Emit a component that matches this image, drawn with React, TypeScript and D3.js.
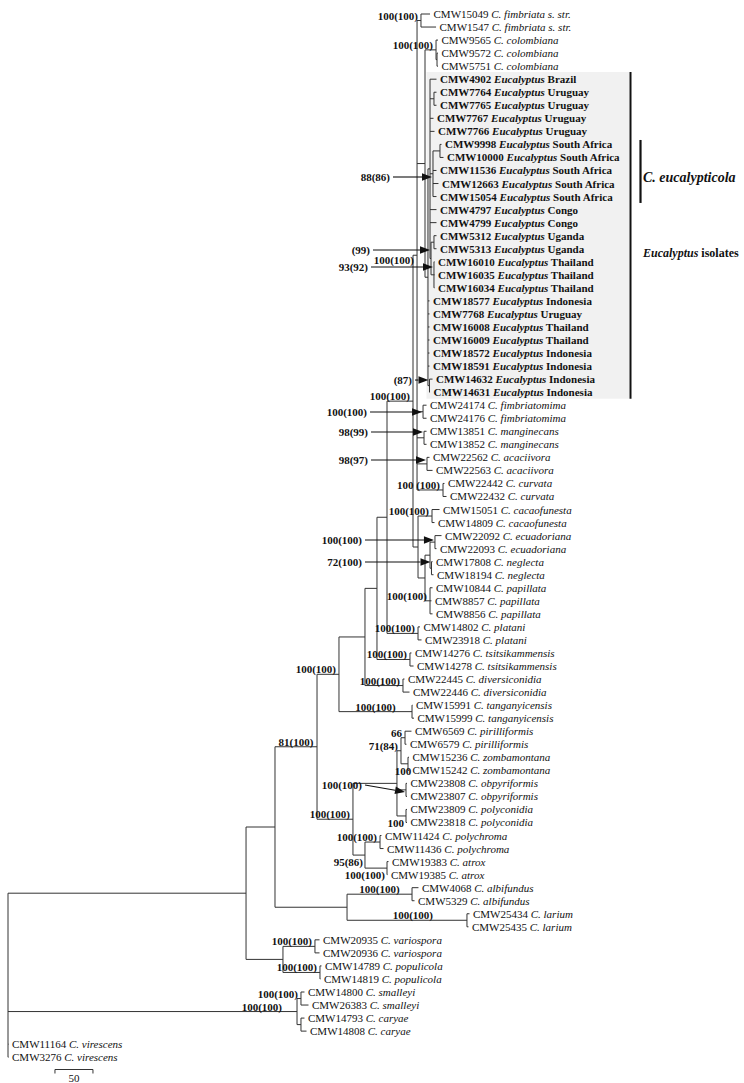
import React from 'react';
import * as d3 from 'd3';

const W = 744;
const H = 1083;
const FONT = '"Liberation Serif", "Times New Roman", Times, serif';

// ---------------- data ----------------
const leafCodes = [
  'CMW15049', 'CMW1547', 'CMW9565', 'CMW9572', 'CMW5751',
  'CMW4902', 'CMW7764', 'CMW7765', 'CMW7767', 'CMW7766',
  'CMW9998', 'CMW10000', 'CMW11536', 'CMW12663', 'CMW15054',
  'CMW4797', 'CMW4799', 'CMW5312', 'CMW5313', 'CMW16010',
  'CMW16035', 'CMW16034', 'CMW18577', 'CMW7768', 'CMW16008',
  'CMW16009', 'CMW18572', 'CMW18591', 'CMW14632', 'CMW14631',
  'CMW24174', 'CMW24176', 'CMW13851', 'CMW13852', 'CMW22562',
  'CMW22563', 'CMW22442', 'CMW22432', 'CMW15051', 'CMW14809',
  'CMW22092', 'CMW22093', 'CMW17808', 'CMW18194', 'CMW10844',
  'CMW8857', 'CMW8856', 'CMW14802', 'CMW23918', 'CMW14276',
  'CMW14278', 'CMW22445', 'CMW22446', 'CMW15991', 'CMW15999',
  'CMW6569', 'CMW6579', 'CMW15236', 'CMW15242', 'CMW23808',
  'CMW23807', 'CMW23809', 'CMW23818', 'CMW11424', 'CMW11436',
  'CMW19383', 'CMW19385', 'CMW4068', 'CMW5329', 'CMW25434',
  'CMW25435', 'CMW20935', 'CMW20936', 'CMW14789', 'CMW14819',
  'CMW14800', 'CMW26383', 'CMW14793', 'CMW14808', 'CMW11164',
  'CMW3276',
];

const leafTaxa = [
  'C. fimbriata s. str.', 'C. fimbriata s. str.', 'C. colombiana', 'C. colombiana', 'C. colombiana',
  'Eucalyptus Brazil', 'Eucalyptus Uruguay', 'Eucalyptus Uruguay', 'Eucalyptus Uruguay', 'Eucalyptus Uruguay',
  'Eucalyptus South Africa', 'Eucalyptus South Africa', 'Eucalyptus South Africa', 'Eucalyptus South Africa', 'Eucalyptus South Africa',
  'Eucalyptus Congo', 'Eucalyptus Congo', 'Eucalyptus Uganda', 'Eucalyptus Uganda', 'Eucalyptus Thailand',
  'Eucalyptus Thailand', 'Eucalyptus Thailand', 'Eucalyptus Indonesia', 'Eucalyptus Uruguay', 'Eucalyptus Thailand',
  'Eucalyptus Thailand', 'Eucalyptus Indonesia', 'Eucalyptus Indonesia', 'Eucalyptus Indonesia', 'Eucalyptus Indonesia',
  'C. fimbriatomima', 'C. fimbriatomima', 'C. manginecans', 'C. manginecans', 'C. acaciivora',
  'C. acaciivora', 'C. curvata', 'C. curvata', 'C. cacaofunesta', 'C. cacaofunesta',
  'C. ecuadoriana', 'C. ecuadoriana', 'C. neglecta', 'C. neglecta', 'C. papillata',
  'C. papillata', 'C. papillata', 'C. platani', 'C. platani', 'C. tsitsikammensis',
  'C. tsitsikammensis', 'C. diversiconidia', 'C. diversiconidia', 'C. tanganyicensis', 'C. tanganyicensis',
  'C. pirilliformis', 'C. pirilliformis', 'C. zombamontana', 'C. zombamontana', 'C. obpyriformis',
  'C. obpyriformis', 'C. polyconidia', 'C. polyconidia', 'C. polychroma', 'C. polychroma',
  'C. atrox', 'C. atrox', 'C. albifundus', 'C. albifundus', 'C. larium',
  'C. larium', 'C. variospora', 'C. variospora', 'C. populicola', 'C. populicola',
  'C. smalleyi', 'C. smalleyi', 'C. caryae', 'C. caryae', 'C. virescens',
  'C. virescens',
];

const leafParents = [
  'fimS', 'fimS', 'col', 'colSub', 'colSub',
  'E1', 'U', 'U', 'E1', 'E1',
  'SA1', 'SA1', 'SA', 'SA', 'SA',
  'E1', 'E1', 'UG', 'UG', 'TH',
  'TH', 'TH', 'E', 'E', 'E',
  'E', 'E', 'E', 'E2', 'E2',
  'fimb', 'fimb', 'mang', 'mang', 'acac',
  'acac', 'curv', 'curv', 'caca', 'caca',
  'ecu', 'ecu', 'neg', 'neg', 'pap',
  'pap', 'pap', 'plat', 'plat', 'tsit',
  'tsit', 'div', 'div', 'tang', 'tang',
  'pir', 'pir', 'zomb', 'zomb', 'obp',
  'obp', 'pol', 'pol', 'polych', 'polych',
  'atrox', 'atrox', 'albif', 'albif', 'lar',
  'lar', 'vario', 'vario', 'popu', 'popu',
  'smal', 'smal', 'cary', 'cary', 'root',
  'root',
];

// distance of each tip from the root (tree units; scale bar = 50)
const leafDepths = [
  555.3, 563.2, 565.8, 565.8, 565.8,
  563.8, 563.8, 563.8, 559.9, 561.2,
  570.4, 573.0, 563.8, 566.4, 563.8,
  563.8, 563.8, 563.8, 563.8, 561.2,
  561.2, 561.2, 554.6, 554.6, 554.6,
  554.6, 554.6, 554.6, 558.6, 555.3,
  550.7, 550.7, 550.7, 550.7, 554.6,
  558.6, 574.3, 577.0, 567.8, 561.2,
  570.4, 563.8, 558.6, 559.9, 558.6,
  557.2, 558.6, 542.1, 544.1, 530.9,
  533.6, 521.7, 528.3, 532.2, 534.2,
  530.9, 524.3, 527.6, 527.6, 525.0,
  525.0, 525.0, 525.0, 491.4, 494.1,
  500.7, 499.3, 540.1, 534.9, 607.2,
  605.9, 409.9, 409.9, 412.5, 411.2,
  390.1, 395.4, 390.1, 392.8, 0.7,
  0.7,
];

const nodeNames = [
  'root', 'C246', 'C275', 'C317', 'C339', 'C365', 'A377', 'C387', 'C413', 'C417',
  'fimS', 'C425a', 'col', 'colSub', 'E', 'E1', 'U', 'SA', 'SA1', 'UT',
  'UG', 'TH', 'E2', 'fimb', 'mang', 'acac', 'curv', 'C418', 'caca', 'C425b',
  'C430', 'ecu', 'neg', 'pap', 'plat', 'tsit', 'div', 'tang', 'C353', 'C397',
  'C402', 'pir', 'zomb', 'obp', 'pol', 'C365b', 'polych', 'atrox', 'C347', 'albif',
  'lar', 'C283', 'vario', 'popu', 'C297', 'smal', 'cary',
];

const nodeParents = [
  '', 'root', 'C246', 'C275', 'C317', 'C339', 'C365', 'A377', 'C387', 'C413',
  'C417', 'C417', 'C425a', 'col', 'C425a', 'E', 'E1', 'E1', 'SA', 'E1',
  'UT', 'UT', 'E', 'C417', 'C417', 'C417', 'C417', 'C413', 'C418', 'C418',
  'C425b', 'C430', 'C430', 'C425b', 'C387', 'A377', 'C365', 'C339', 'C317', 'C353',
  'C397', 'C402', 'C402', 'C397', 'C397', 'C353', 'C365b', 'C365b', 'C275', 'C347',
  'C347', 'C246', 'C283', 'C283', 'root', 'C297', 'C297',
];

const nodeDepths = [
  0, 313.2, 351.3, 406.6, 435.5, 469.7, 485.5, 498.7, 532.9, 538.2,
  543.4, 548.7, 563.2, 564.5, 552.6, 555.3, 560.5, 559.2, 568.4, 556.6,
  560.5, 560.5, 554.6, 546.1, 547.4, 551.3, 572.4, 539.5, 557.9, 548.7,
  555.3, 561.8, 557.2, 555.3, 539.5, 528.9, 519.7, 531.6, 453.9, 511.8,
  517.1, 522.4, 526.3, 523.7, 523.7, 469.7, 489.5, 498.7, 446.1, 531.6,
  603.9, 361.8, 403.9, 410.5, 380.3, 385.5, 385.5,
];

// bootstrap support labels written beside a branch
const supportLabels = [
  { node: 'fimS', text: '100(100)', place: 'above' },
  { node: 'col', text: '100(100)', place: 'above' },
  { node: 'C417', text: '100(100)', place: 'above', shift: 0.72 },
  { node: 'C413', text: '100(100)', place: 'above' },
  { node: 'curv', text: '100 (100)', place: 'above' },
  { node: 'caca', text: '100(100)', place: 'above' },
  { node: 'pap', text: '100(100)', place: 'above' },
  { node: 'plat', text: '100(100)', place: 'above' },
  { node: 'tsit', text: '100(100)', place: 'above' },
  { node: 'div', text: '100(100)', place: 'above' },
  { node: 'tang', text: '100(100)', place: 'above' },
  { node: 'C339', text: '100(100)', place: 'above' },
  { node: 'C317', text: '81(100)', place: 'above' },
  { node: 'C353', text: '100(100)', place: 'above' },
  { node: 'pir', text: '66', place: 'above' },
  { node: 'C402', text: '71(84)', place: 'above' },
  { node: 'zomb', text: '100', place: 'below', end: 530.5 },
  { node: 'pol', text: '100', place: 'below' },
  { node: 'polych', text: '100(100)', place: 'above' },
  { node: 'C365b', text: '95(86)', place: 'below' },
  { node: 'atrox', text: '100(100)', place: 'below' },
  { node: 'albif', text: '100(100)', place: 'above' },
  { node: 'lar', text: '100(100)', place: 'above', end: 559.2 },
  { node: 'vario', text: '100(100)', place: 'above' },
  { node: 'popu', text: '100(100)', place: 'above' },
  { node: 'smal', text: '100(100)', place: 'above' },
  { node: 'C297', text: '100(100)', place: 'above', end: 360.5 },
];

// support labels connected to their node with an arrow (end: label right edge in tree units, row: leaf row)
const arrowLabels = [
  { node: 'SA', text: '88(86)', end: 502.6, row: 12.5 },
  { node: 'UT', text: '(99)', end: 476.3, row: 18.1 },
  { node: 'TH', text: '93(92)', end: 473.7, row: 19.4 },
  { node: 'E2', text: '(87)', end: 531.6, row: 28.07 },
  { node: 'fimb', text: '100(100)', end: 472.4, row: 30.52 },
  { node: 'mang', text: '98(99)', end: 473.7, row: 32.06 },
  { node: 'acac', text: '98(97)', end: 473.7, row: 34.2 },
  { node: 'ecu', text: '100(100)', end: 465.8, row: 40.34 },
  { node: 'neg', text: '72(100)', end: 465.8, row: 42.02 },
  { node: 'obp', text: '100(100)', end: 465.8, row: 59.13, tipRow: 59.66 },
];

const scaleBarLength = 50;
const scaleBarStart = 61.8;

// ---------------- layout ----------------
const xS = d3.scaleLinear().domain([0, 50]).range([8, 46]);
const yS = d3.scaleLinear().domain([0, 80]).range([14, 1057.2]);
const rowH = yS(1) - yS(0);

type Row = { id: string; parent: string | null; depth: number; leaf: number };

function buildTree() {
  const rows: Row[] = [];
  nodeNames.forEach((id, i) => rows.push({ id, parent: nodeParents[i] || null, depth: nodeDepths[i], leaf: -1 }));
  leafCodes.forEach((_, i) => rows.push({ id: 'L' + i, parent: leafParents[i], depth: leafDepths[i], leaf: i }));
  const root: any = d3.stratify<Row>().id(d => d.id).parentId(d => d.parent)(rows);
  root.eachAfter((n: any) => {
    n.mi = n.data.leaf >= 0 ? n.data.leaf : d3.min(n.children, (c: any) => c.mi);
  });
  root.sort((a: any, b: any) => a.mi - b.mi);
  root.eachAfter((n: any) => {
    if (n.data.leaf >= 0) n.py = yS(n.data.leaf);
    else n.py = (n.children[0].py + n.children[n.children.length - 1].py) / 2;
    n.px = xS(n.data.depth);
  });
  const byId = new Map<string, any>();
  root.each((n: any) => byId.set(n.id, n));
  return { root, byId };
}

function textW(s: string, size: number) {
  let w = 0;
  for (const ch of s) w += ch === ' ' ? 0.25 : ch === '(' || ch === ')' ? 0.333 : 0.5;
  return w * size;
}

export default function App() {
  const { root, byId } = buildTree();
  const nodes: any[] = root.descendants();
  const stroke = '#333';

  const E = byId.get('E');
  const boxLeft = E.px - 1.5;
  const boxRight = 629;
  const boxTop = yS(4.45);
  const boxBottom = yS(29.5);

  const sbX0 = xS(scaleBarStart);
  const sbX1 = xS(scaleBarStart + scaleBarLength);
  const sbY = 1069.5;

  return (
    <svg width={W} height={H} style={{ position: 'absolute', left: 0, top: 0, background: '#fff' }}
      fontFamily={FONT}>
      <rect x={0} y={0} width={W} height={H} fill="#fff" />
      <rect x={boxLeft} y={boxTop} width={boxRight - boxLeft} height={boxBottom - boxTop} fill="#f1f1f1" />

      {/* branches */}
      <g stroke={stroke} strokeWidth={1} fill="none">
        {nodes.filter(n => n.parent).map(n => (
          <line key={'h' + n.id} x1={n.parent.px} x2={n.px} y1={n.py} y2={n.py} />
        ))}
        {nodes.filter(n => n.children).map(n => (
          <line key={'v' + n.id} x1={n.px} x2={n.px} y1={n.children[0].py}
            y2={n.children[n.children.length - 1].py} />
        ))}
      </g>

      {/* leaf labels */}
      <g fontSize={11} fill="#111">
        {nodes.filter(n => n.data.leaf >= 0).map(n => {
          const i = n.data.leaf;
          const taxon = leafTaxa[i];
          const x = n.px + 3.5;
          const y = n.py + 4;
          if (taxon.startsWith('Eucalyptus')) {
            const rest = taxon.slice('Eucalyptus'.length);
            return (
              <text key={'t' + i} x={x} y={y} fontWeight="bold" style={{ whiteSpace: 'pre' }}>
                {leafCodes[i] + ' '}
                <tspan fontStyle="italic">Eucalyptus</tspan>
                {rest}
              </text>
            );
          }
          return (
            <text key={'t' + i} x={x} y={y} style={{ whiteSpace: 'pre' }}>
              {leafCodes[i] + ' '}
              <tspan fontStyle="italic">{taxon}</tspan>
            </text>
          );
        })}
      </g>

      {/* support values */}
      <g fontSize={11} fontWeight="bold" fill="#111" style={{ whiteSpace: 'pre' }}>
        {supportLabels.map((s: any, k) => {
          const n = byId.get(s.node);
          const w = textW(s.text, 11);
          const sh = (s.shift || 0) * rowH;
          if (s.place === 'above') {
            const x0 = n.parent.px;
            const x1 = n.px;
            let right = Math.min((x0 + x1) / 2 + w / 2, x1 - 3);
            if (s.end !== undefined) right = xS(s.end);
            return <text key={'s' + k} x={right} y={n.py - 1 + sh} textAnchor="end">{s.text}</text>;
          }
          const right = s.end !== undefined ? xS(s.end) : n.px - 2;
          return <text key={'s' + k} x={right} y={n.py + 11 + sh} textAnchor="end">{s.text}</text>;
        })}
      </g>

      {/* arrow labels */}
      <g>
        {arrowLabels.map((a: any, k) => {
          const n = byId.get(a.node);
          const lx = xS(a.end);
          const ly = yS(a.row);
          const tx = n.px - 1;
          const ty = a.tipRow !== undefined ? yS(a.tipRow) : ly;
          const sx = lx + 3;
          const dx = tx - sx;
          const dy = ty - ly;
          const len = Math.hypot(dx, dy);
          const ux = dx / len;
          const uy = dy / len;
          const hl = 10;
          const hw = 3.8;
          const bx = tx - ux * hl;
          const by = ty - uy * hl;
          const pts = [
            [tx, ty],
            [bx - uy * hw, by + ux * hw],
            [bx + uy * hw, by - ux * hw],
          ].map(p => p.join(',')).join(' ');
          return (
            <g key={'a' + k}>
              <text x={lx} y={ly + 4} textAnchor="end" fontSize={11} fontWeight="bold" fill="#111">{a.text}</text>
              <line x1={sx} y1={ly} x2={bx} y2={by} stroke="#111" strokeWidth={1.1} />
              <polygon points={pts} fill="#111" />
            </g>
          );
        })}
      </g>

      {/* clade annotations */}
      <line x1={630.5} x2={630.5} y1={boxTop} y2={boxBottom} stroke="#111" strokeWidth={2} />
      <line x1={640.5} x2={640.5} y1={yS(9.66)} y2={yS(14.49)} stroke="#111" strokeWidth={2.2} />
      <text x={643} y={yS(12.5) + 5} fontSize={14} fontWeight="bold" fontStyle="italic" fill="#111">C. eucalypticola</text>
      <text x={643} y={yS(18.33) + 4} fontSize={12} fontWeight="bold" fill="#111" style={{ whiteSpace: 'pre' }}>
        <tspan fontStyle="italic">Eucalyptus</tspan>{' isolates'}
      </text>

      {/* scale bar */}
      <path d={`M${sbX0},${sbY + 4}V${sbY}H${sbX1}V${sbY + 4}`} stroke="#333" strokeWidth={1} fill="none" />
      <text x={(sbX0 + sbX1) / 2} y={1082} fontSize={11} textAnchor="middle" fill="#111">{String(scaleBarLength)}</text>
    </svg>
  );
}
